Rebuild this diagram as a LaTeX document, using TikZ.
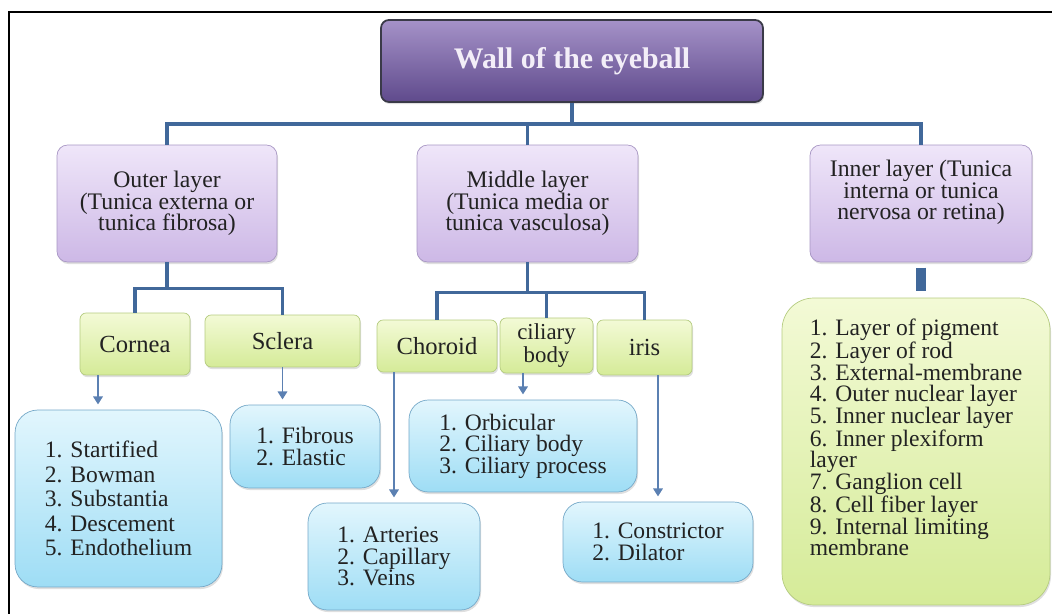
\documentclass[tikz,border=0pt]{standalone}
\usepackage{fontspec}
\setmainfont{Liberation Serif}
\usetikzlibrary{shadings, shadows, arrows.meta}
\definecolor{titletop}{HTML}{A592C8}
\definecolor{titlebot}{HTML}{5F4A8C}
\definecolor{titleedge}{HTML}{3A3A48}
\definecolor{titletext}{HTML}{F3EEF8}
\definecolor{layertop}{HTML}{EFE6F9}
\definecolor{layerbot}{HTML}{CDB8E6}
\definecolor{layeredge}{HTML}{A897C4}
\definecolor{parttop}{HTML}{F3FAD6}
\definecolor{partbot}{HTML}{D5EB98}
\definecolor{partedge}{HTML}{B5CC80}
\definecolor{listtop}{HTML}{E2F6FD}
\definecolor{listbot}{HTML}{9EDDF5}
\definecolor{listedge}{HTML}{74A8C8}
\definecolor{trunkblue}{HTML}{41689A}
\definecolor{arrowblue}{HTML}{5B80B2}
\definecolor{textgray}{HTML}{222222}

\begin{document}
\begin{tikzpicture}[x=0.02cm, y=-0.02cm,
    box/.style={rectangle, draw, align=center, text=textgray,
        drop shadow={opacity=.25, shadow xshift=.6pt, shadow yshift=-1.2pt}},
    headbox/.style={box, rounded corners=4.5pt, draw=titleedge, line width=1pt,
        top color=titletop, bottom color=titlebot, text=titletext,
        font=\fontsize{17}{19}\bfseries\selectfont},
    layerbox/.style={box, rounded corners=6pt, draw=layeredge,
        top color=layertop, bottom color=layerbot,
        font=\fontsize{13.5}{12.4}\selectfont},
    partbox/.style={box, rounded corners=3.5pt, draw=partedge,
        top color=parttop, bottom color=partbot, font=\fontsize{14}{11}\selectfont},
    listbox/.style={box, align=left, rounded corners=11pt, draw=listedge,
        top color=listtop, bottom color=listbot, font=\fontsize{13.4}{12.2}\selectfont},
    retinabox/.style={listbox, rounded corners=18pt, draw=partedge,
        top color=parttop, bottom color=partbot},
    trunk/.style={draw=trunkblue, line width=2pt},
    pointer/.style={draw=arrowblue, line width=.7pt, shorten >=3pt,
        -{Triangle[width=5.5pt, length=4.5pt]}}]
    \useasboundingbox (0,0) rectangle (1052,614);
    \draw[line width=1.2pt] (9,614) |- (1052,12);
    \node[headbox, minimum width=7.64cm, minimum height=1.64cm] (wall) at (572,61) {Wall of the eyeball};
    \node[layerbox, minimum width=4.4cm, minimum height=2.34cm] (outer) at (167,203.5)
        {Outer layer\\(Tunica externa or\\tunica fibrosa)};
    \node[layerbox, minimum width=4.42cm, minimum height=2.34cm] (middle) at (527.5,203.5)
        {Middle layer\\(Tunica media or\\tunica vasculosa)};
    \node[layerbox, minimum width=4.44cm, minimum height=2.34cm] (inner) at (921,203.5)
        {Inner layer (Tunica\\interna or tunica\\nervosa or retina)\\[3pt]\mbox{}};
    \node[partbox, minimum width=2.2cm, minimum height=1.24cm] (cornea) at (135,344) {Cornea};
    \node[partbox, minimum width=3.1cm, minimum height=1.04cm] (sclera) at (282.5,341) {Sclera};
    \node[partbox, minimum width=2.4cm, minimum height=1.04cm] (choroid) at (437,346) {Choroid};
    \node[partbox, minimum width=1.86cm, minimum height=1.1cm, font=\fontsize{13}{11}\selectfont]
        (ciliary) at (546.5,345.5) {ciliary\\body};
    \node[partbox, minimum width=1.9cm, minimum height=1.1cm] (iris) at (644.5,347.5) {iris};
    \node[listbox, minimum width=4.14cm, minimum height=3.54cm, rounded corners=13pt,
        font=\fontsize{13.4}{14}\selectfont] (cornealist) at (118.5,498.5)
        {1. Startified\\2. Bowman\\3. Substantia\\4. Descement\\5. Endothelium};
    \node[listbox, minimum width=3cm, minimum height=1.66cm] (sclerallist) at (305,446.5)
        {1. Fibrous\\2. Elastic};
    \node[listbox, minimum width=3.44cm, minimum height=2.14cm] (choroidlist) at (394,556.5)
        {1. Arteries\\2. Capillary\\3. Veins};
    \node[listbox, minimum width=4.56cm, minimum height=1.84cm] (ciliarylist) at (523,446)
        {1. Orbicular\\2. Ciliary body\\3. Ciliary process};
    \node[listbox, minimum width=3.8cm, minimum height=1.6cm] (irislist) at (658,542)
        {1. Constrictor\\2. Dilator};
    \node[retinabox, minimum width=5.36cm, minimum height=6.14cm] (retina) at (916,451.5)
        {1. Layer of pigment\\2. Layer of rod\\3. External-membrane\\4. Outer nuclear layer\\
         5. Inner nuclear layer\\6. Inner plexiform\\layer\\7. Ganglion cell\\
         8. Cell fiber layer\\9. Internal limiting\\membrane\\[4pt]\mbox{}};
    \draw[trunk] (wall.south) -- ++(0,21) coordinate (hub);
    \draw[trunk] (outer.north) |- (hub) -| (inner.north);
    \draw[trunk] (middle.north) -- (middle.north |- hub);
    \draw[trunk] (outer.south) -- ++(0,26) coordinate (ohub);
    \draw[trunk] (cornea.north) |- (ohub) -| (sclera.north);
    \draw[trunk] (middle.south) -- ++(0,30) coordinate (mhub);
    \draw[trunk] (choroid.north) |- (mhub) -| (iris.north);
    \draw[trunk] (ciliary.north) -- (ciliary.north |- mhub);
    \draw[trunk, line width=5.5pt, shorten <=3pt, shorten >=4pt] (inner.south) -- (inner.south |- retina.north);
    \draw[pointer] ([xshift=-.74cm]cornea.south) -- ([xshift=-.74cm]cornea.south |- cornealist.north);
    \draw[pointer] (sclera.south) -- (sclera.south |- sclerallist.north);
    \draw[pointer] (choroid.south -| choroidlist.north) -- (choroidlist.north);
    \draw[pointer] (ciliary.south -| ciliarylist.north) -- (ciliarylist.north);
    \draw[pointer] (iris.south -| irislist.north) -- (irislist.north);
\end{tikzpicture}
\end{document}
